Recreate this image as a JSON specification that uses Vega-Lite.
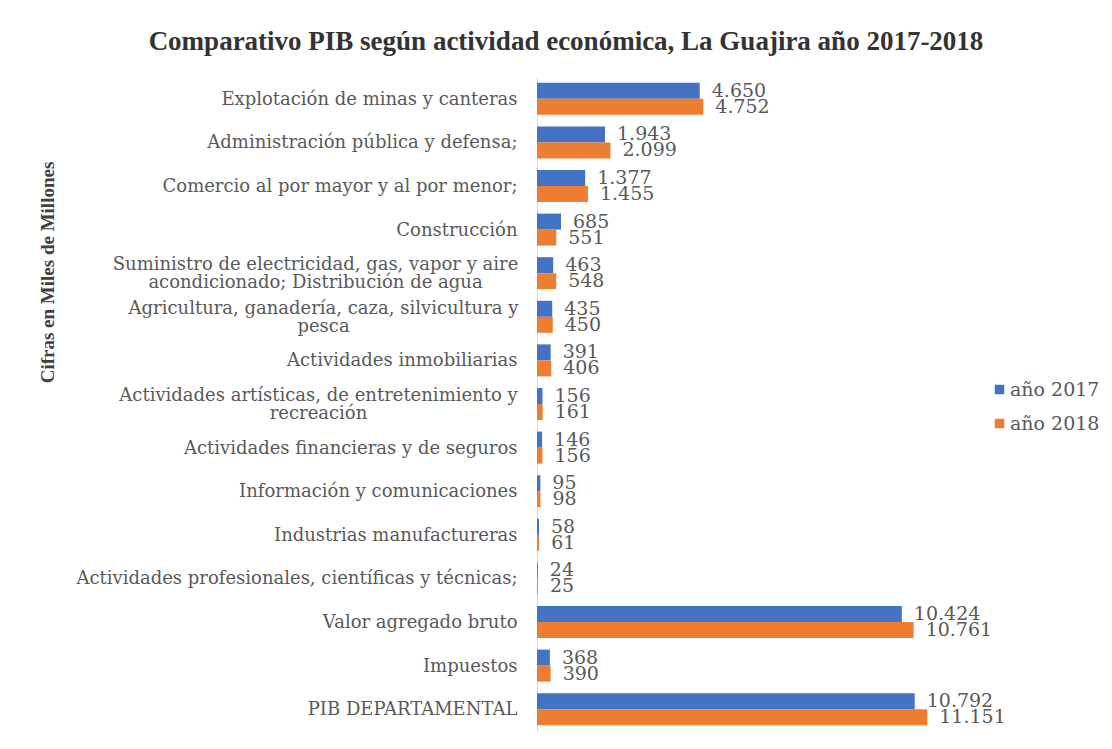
{
  "$schema": "https://vega.github.io/schema/vega-lite/v6.json",
  "autosize": "none",
  "width": 420,
  "height": 654,
  "padding": {"left": 537, "top": 77, "right": 155, "bottom": 18},
  "background": "white",
  "title": {
    "text": "Comparativo PIB según actividad económica, La Guajira año 2017-2018",
    "font": "Liberation Serif",
    "fontSize": 27,
    "fontWeight": "bold",
    "color": "#333333",
    "anchor": "middle",
    "dx": -181,
    "offset": 21
  },
  "data": {
    "values": [
      {"actividad": "Explotación de minas y canteras", "serie": "año 2017", "valor": 4650},
      {"actividad": "Explotación de minas y canteras", "serie": "año 2018", "valor": 4752},
      {"actividad": "Administración pública y defensa;", "serie": "año 2017", "valor": 1943},
      {"actividad": "Administración pública y defensa;", "serie": "año 2018", "valor": 2099},
      {"actividad": "Comercio al por mayor y al por menor;", "serie": "año 2017", "valor": 1377},
      {"actividad": "Comercio al por mayor y al por menor;", "serie": "año 2018", "valor": 1455},
      {"actividad": "Construcción", "serie": "año 2017", "valor": 685},
      {"actividad": "Construcción", "serie": "año 2018", "valor": 551},
      {"actividad": "Suministro de electricidad, gas, vapor y aire\nacondicionado; Distribución de agua", "serie": "año 2017", "valor": 463},
      {"actividad": "Suministro de electricidad, gas, vapor y aire\nacondicionado; Distribución de agua", "serie": "año 2018", "valor": 548},
      {"actividad": "Agricultura, ganadería, caza, silvicultura y\npesca", "serie": "año 2017", "valor": 435},
      {"actividad": "Agricultura, ganadería, caza, silvicultura y\npesca", "serie": "año 2018", "valor": 450},
      {"actividad": "Actividades inmobiliarias", "serie": "año 2017", "valor": 391},
      {"actividad": "Actividades inmobiliarias", "serie": "año 2018", "valor": 406},
      {"actividad": "Actividades artísticas, de entretenimiento y\nrecreación", "serie": "año 2017", "valor": 156},
      {"actividad": "Actividades artísticas, de entretenimiento y\nrecreación", "serie": "año 2018", "valor": 161},
      {"actividad": "Actividades financieras y de seguros", "serie": "año 2017", "valor": 146},
      {"actividad": "Actividades financieras y de seguros", "serie": "año 2018", "valor": 156},
      {"actividad": "Información y comunicaciones", "serie": "año 2017", "valor": 95},
      {"actividad": "Información y comunicaciones", "serie": "año 2018", "valor": 98},
      {"actividad": "Industrias manufactureras", "serie": "año 2017", "valor": 58},
      {"actividad": "Industrias manufactureras", "serie": "año 2018", "valor": 61},
      {"actividad": "Actividades profesionales, científicas y técnicas;", "serie": "año 2017", "valor": 24},
      {"actividad": "Actividades profesionales, científicas y técnicas;", "serie": "año 2018", "valor": 25},
      {"actividad": "Valor agregado bruto", "serie": "año 2017", "valor": 10424},
      {"actividad": "Valor agregado bruto", "serie": "año 2018", "valor": 10761},
      {"actividad": "Impuestos", "serie": "año 2017", "valor": 368},
      {"actividad": "Impuestos", "serie": "año 2018", "valor": 390},
      {"actividad": "PIB DEPARTAMENTAL", "serie": "año 2017", "valor": 10792},
      {"actividad": "PIB DEPARTAMENTAL", "serie": "año 2018", "valor": 11151}
    ]
  },
  "encoding": {
    "y": {
      "field": "actividad",
      "type": "nominal",
      "sort": null,
      "scale": {"paddingInner": 0.266, "paddingOuter": 0.133},
      "axis": {
        "title": "Cifras en Miles de Millones",
        "titleFont": "Liberation Serif",
        "titleFontSize": 19,
        "titleFontWeight": "bold",
        "titleColor": "#404040",
        "titleX": -490,
        "titleY": 195,
        "titleAngle": -90,
        "titleAlign": "center",
        "titleBaseline": "middle",
        "labelExpr": "split(datum.label, '\\n')",
        "labelFont": "DejaVu Serif",
        "labelFontSize": 18,
        "labelColor": "#595959",
        "labelLimit": 600,
        "labelAlign": {"condition": {"test": "indexof(datum.value, '\\n') >= 0", "value": "center"}, "value": "right"},
        "labelPadding": {"condition": [
          {"test": "indexof(datum.value, 'Suministro') == 0", "value": 222},
          {"test": "indexof(datum.value, 'Agricultura') == 0", "value": 214},
          {"test": "indexof(datum.value, 'Actividades art') == 0", "value": 219}
        ], "value": 20},
        "labelOffset": {"condition": {"test": "indexof(datum.value, '\\n') >= 0", "value": -8}, "value": 1},
        "labelLineHeight": 18,
        "ticks": false,
        "domain": true,
        "domainColor": "#d9d9d9",
        "domainWidth": 1,
        "grid": false
      }
    },
    "yOffset": {"field": "serie", "type": "nominal", "sort": ["año 2017", "año 2018"]},
    "x": {
      "field": "valor",
      "type": "quantitative",
      "scale": {"domain": [0, 12000], "nice": false},
      "axis": null
    }
  },
  "layer": [
    {
      "mark": {"type": "bar"},
      "encoding": {
        "color": {
          "field": "serie",
          "type": "nominal",
          "sort": ["año 2017", "año 2018"],
          "scale": {"domain": ["año 2017", "año 2018"], "range": ["#4472C4", "#ED7D31"]},
          "legend": {
            "title": null,
            "orient": "none",
            "legendX": 453,
            "legendY": 303,
            "symbolType": "square",
            "symbolSize": 90,
            "symbolStrokeWidth": 0,
            "labelFont": "DejaVu Serif",
            "labelFontSize": 19,
            "labelColor": "#595959",
            "labelOffset": 1,
            "rowPadding": 14
          }
        }
      }
    },
    {
      "mark": {"type": "text", "align": "left", "baseline": "middle", "dx": 12, "font": "DejaVu Serif", "fontSize": 19, "color": "#595959"},
      "encoding": {
        "text": {"field": "valor", "type": "quantitative", "format": ",d"}
      }
    }
  ],
  "config": {
    "view": {"stroke": null},
    "locale": {
      "number": {"decimal": ",", "thousands": ".", "grouping": [3], "currency": ["$", ""]}
    }
  }
}
